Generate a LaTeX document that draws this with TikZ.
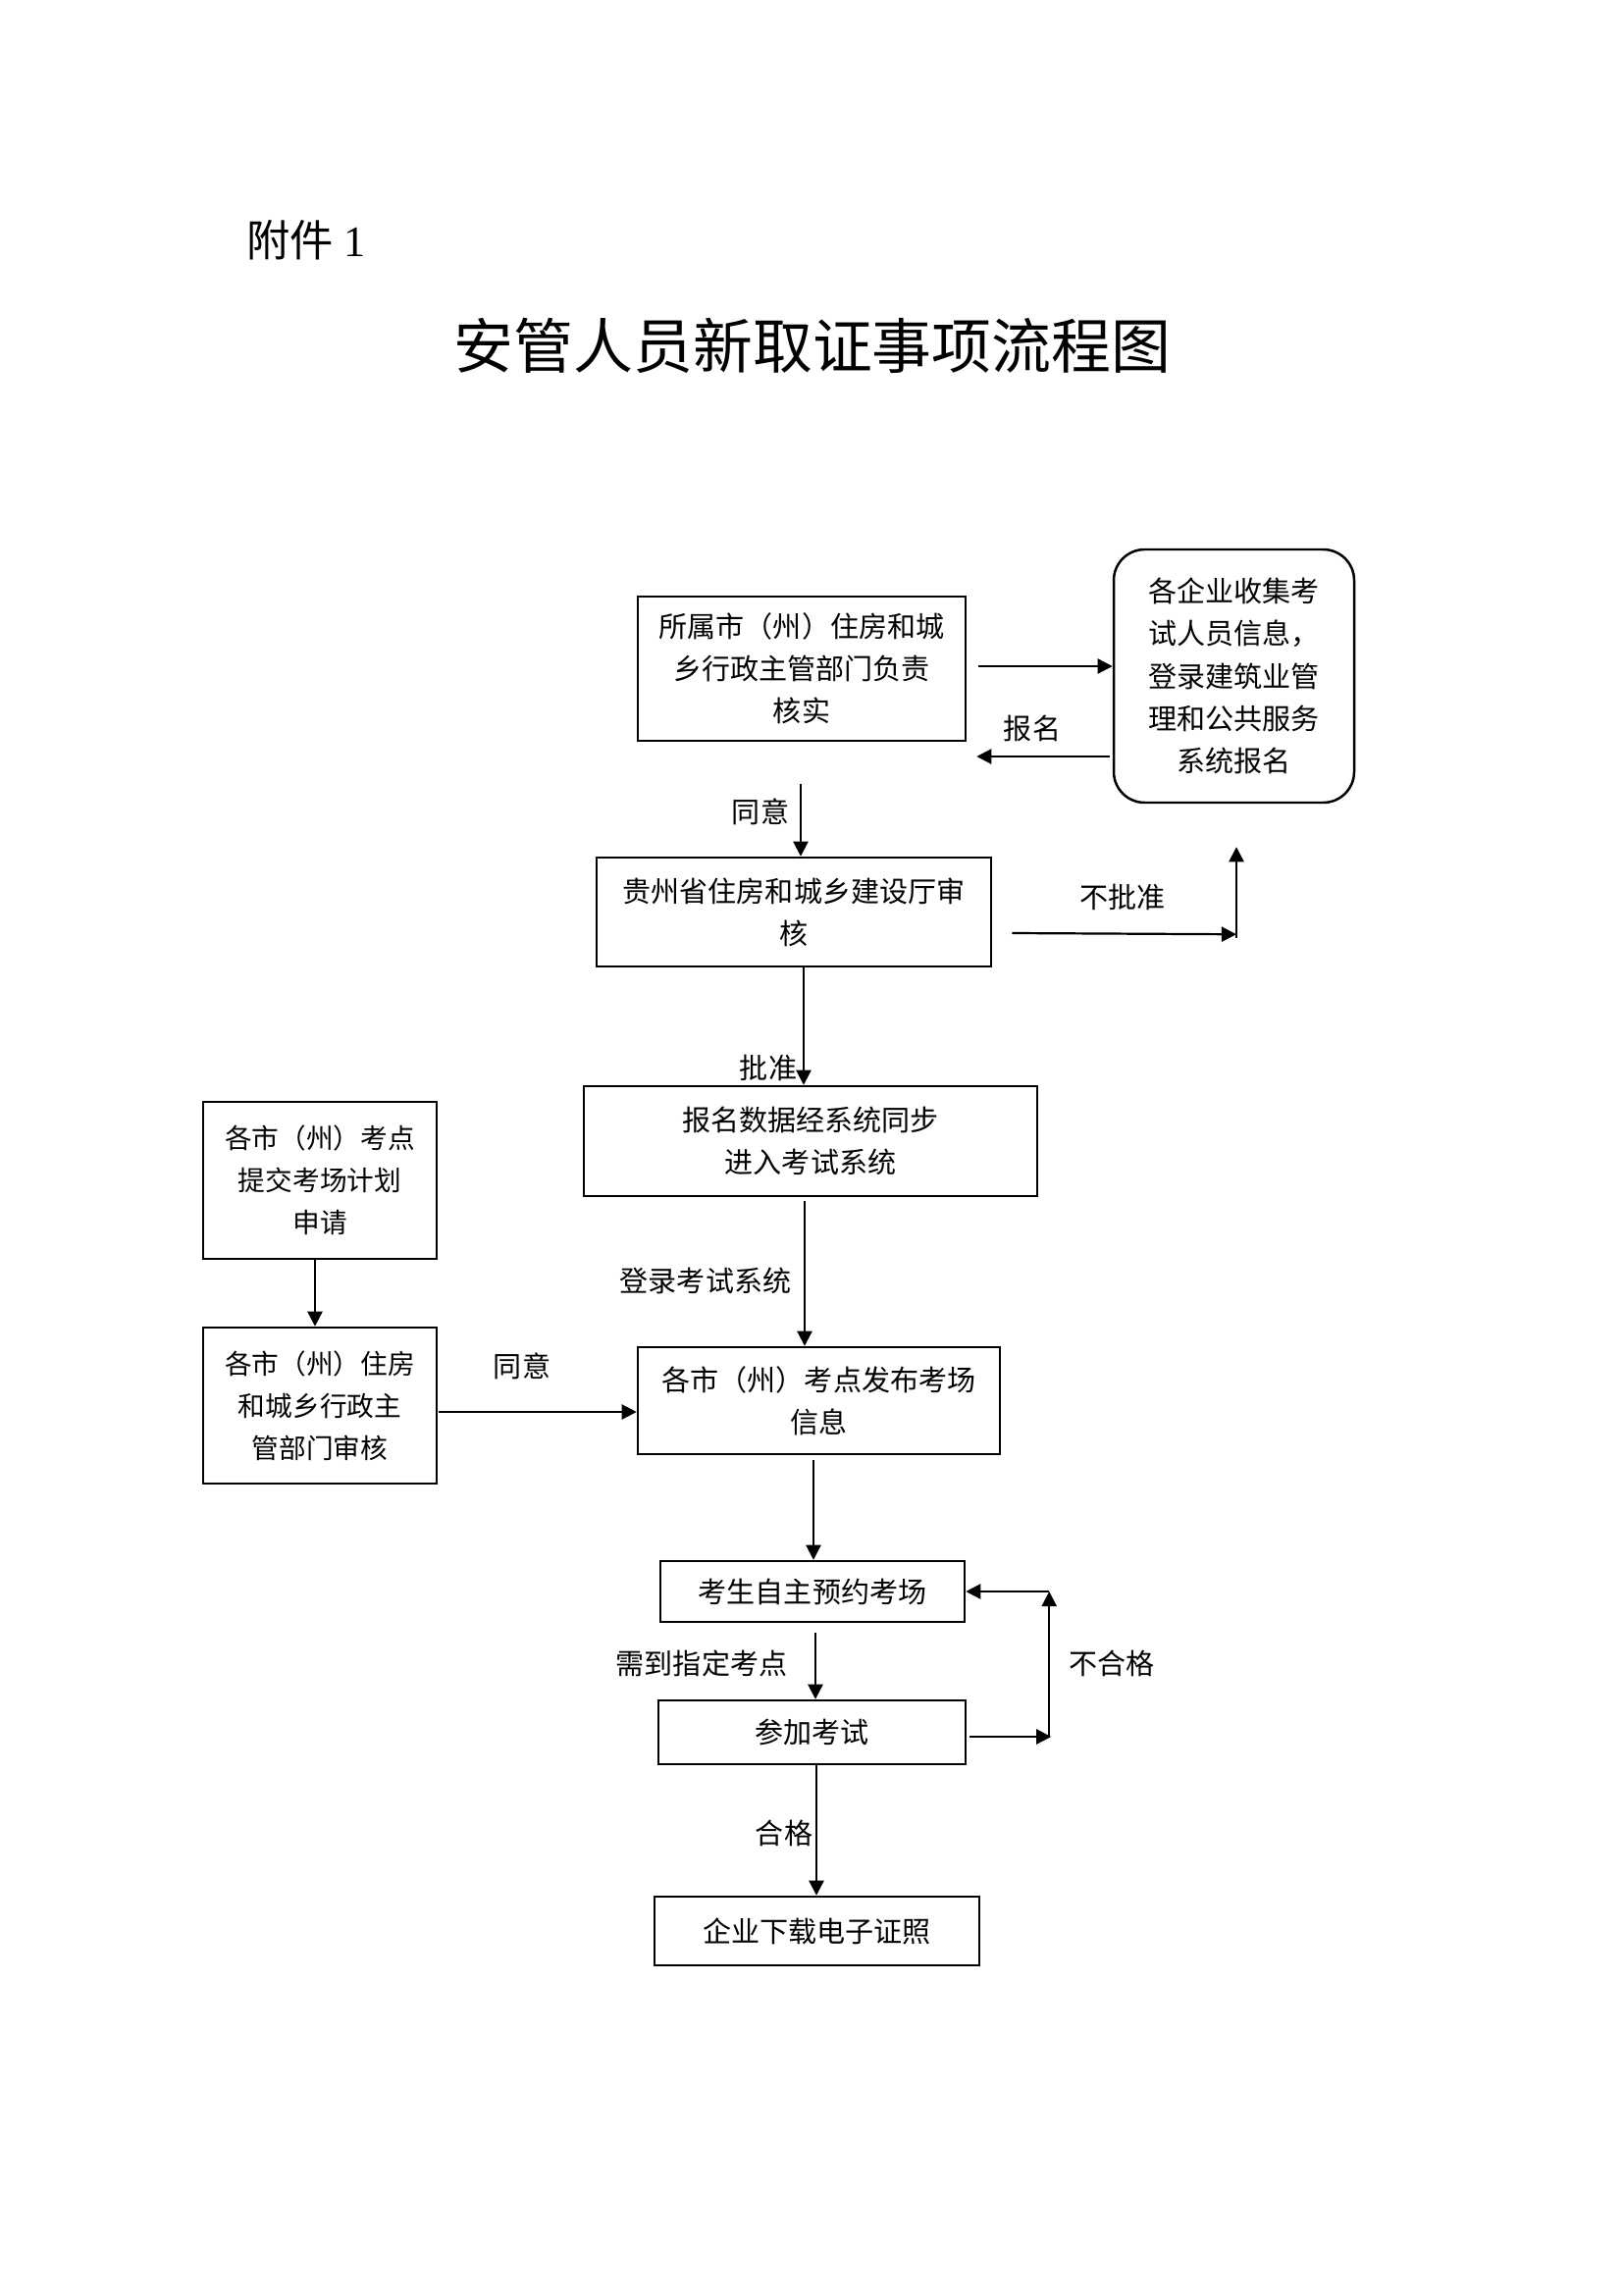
\documentclass[tikz,border=0pt]{standalone}
\usepackage{fontspec}
\setmainfont{Noto Sans CJK SC}
\newfontfamily\latinserif{Liberation Serif}
\usetikzlibrary{arrows.meta,calc}
\begin{document}
\begin{tikzpicture}[x=0.127mm,y=-0.127mm,
  box/.style 2 args={draw,line width=0.9pt,inner sep=0pt,align=center,
    minimum width=#1*0.127mm,minimum height=#2*0.127mm,
    font=\fontsize{10.5pt}{15.6pt}\selectfont},
  sbox/.style={font=\fontsize{10pt}{15.6pt}\selectfont},
  lbl/.style={inner sep=0pt,font=\fontsize{10.5pt}{15.6pt}\selectfont},
  arr/.style={line width=0.8pt,-{Triangle[length=5.5pt,width=5.5pt]}},
  ln/.style={line width=0.8pt}]
\useasboundingbox (0,0) rectangle (1654,2339);
\fill[white] (0,0) rectangle (1654,2339);

\node[anchor=west,inner sep=0pt,font=\fontsize{16pt}{18pt}\selectfont] (fj) at (251,245) {附件 {\latinserif 1}};
\node[inner sep=0pt,font=\fontsize{22pt}{26pt}\selectfont] (title) at (828,352) {安管人员新取证事项流程图};

% boxes
\node[box={334}{147}] (b1) at (817,681.5) {所属市（州）住房和城\\乡行政主管部门负责\\核实};
\node[box={245}{258},rounded corners=4mm] (r) at (1257.5,689) {各企业收集考\\试人员信息，\\登录建筑业管\\理和公共服务\\系统报名};
\node[box={402}{111}] (b2) at (809,929.5) {贵州省住房和城乡建设厅审\\核};
\node[box={462}{112}] (b3) at (826,1163) {报名数据经系统同步\\进入考试系统};
\node[box={238}{160},sbox] (A) at (326,1203) {各市（州）考点\\提交考场计划\\申请};
\node[box={238}{159},sbox] (B) at (326,1432.5) {各市（州）住房\\和城乡行政主\\管部门审核};
\node[box={369}{109}] (b4) at (834.5,1427.5) {各市（州）考点发布考场\\信息};
\node[box={310}{62}] (b5) at (828,1622) {考生自主预约考场};
\node[box={313}{65}] (b6) at (827.5,1765.5) {参加考试};
\node[box={331}{70}] (b7) at (832.5,1968) {企业下载电子证照};

% b1 <-> r
\coordinate (p1) at ($(b1.east)+(12,-2.5)$);
\draw[arr] (p1) -- (p1 -| r.west);
\coordinate (p2) at ($(r.west)+(-3,82)$);
\draw[arr] (p2) -- ($(p2 -| b1.east)+(10,0)$);
\node[lbl] (lbm) at (1052,742) {报名};

% b1 -> b2
\coordinate (p3) at ($(b1.south)+(-1,43)$);
\draw[arr] (p3) -- (p3 |- b2.north);
\node[lbl] (lty1) at (775,827) {同意};

% not approved
\coordinate (p4) at ($(b2.east)+(20,21.5)$);
\coordinate (q1) at ($(r.south)+(2.5,133)$);
\coordinate (q2) at ($(r.south)+(2.5,44)$);
\draw[arr] (p4) -- (q1);
\draw[arr] ($(q1)+(0,4)$) -- (q2);
\node[lbl] (lbpz) at (1144,914) {不批准};

% b2 -> b3
\coordinate (p5) at ($(b2.south)+(10,0)$);
\draw[arr] (p5) -- (p5 |- b3.north);
\node[lbl] (lpz) at (783,1088) {批准};

% b3 -> b4
\coordinate (p6) at ($(b3.south)+(-6,4)$);
\draw[arr] (p6) -- (p6 |- b4.north);
\node[lbl] (ldl) at (719,1305) {登录考试系统};

% A -> B
\coordinate (p7) at ($(A.south)+(-5,0)$);
\draw[arr] (p7) -- (p7 |- B.north);

% B -> b4
\coordinate (p8) at ($(B.east)+(1,6.5)$);
\draw[arr] (p8) -- (p8 -| b4.west);
\node[lbl] (lty2) at (532,1392) {同意};

% b4 -> b5
\coordinate (p9) at ($(b4.south)+(-5.5,5)$);
\draw[arr] (p9) -- (p9 |- b5.north);

% b5 -> b6
\coordinate (p10) at ($(b5.south)+(3,10)$);
\draw[arr] (p10) -- (p10 |- b6.north);
\node[lbl] (lxd) at (715,1695) {需到指定考点};

% b6 -> b7
\coordinate (p11) at ($(b6.south)+(4.5,0)$);
\draw[arr] (p11) -- (p11 |- b7.north);
\node[lbl] (lhg) at (799,1868) {合格};

% fail loop
\coordinate (p12) at ($(b6.east)+(3,4.5)$);
\coordinate (q3) at ($(b6.east)+(86,4.5)$);
\coordinate (q4) at ($(b6.east)+(84,4.5)$);
\coordinate (q5) at (q4 |- b5.east);
\draw[arr] (p12) -- (q3);
\draw[arr] (q4) -- (q5);
\draw[arr] (q5) -- (b5.east);
\node[lbl] (lbhg) at (1133,1695) {不合格};
\end{tikzpicture}
\end{document}
